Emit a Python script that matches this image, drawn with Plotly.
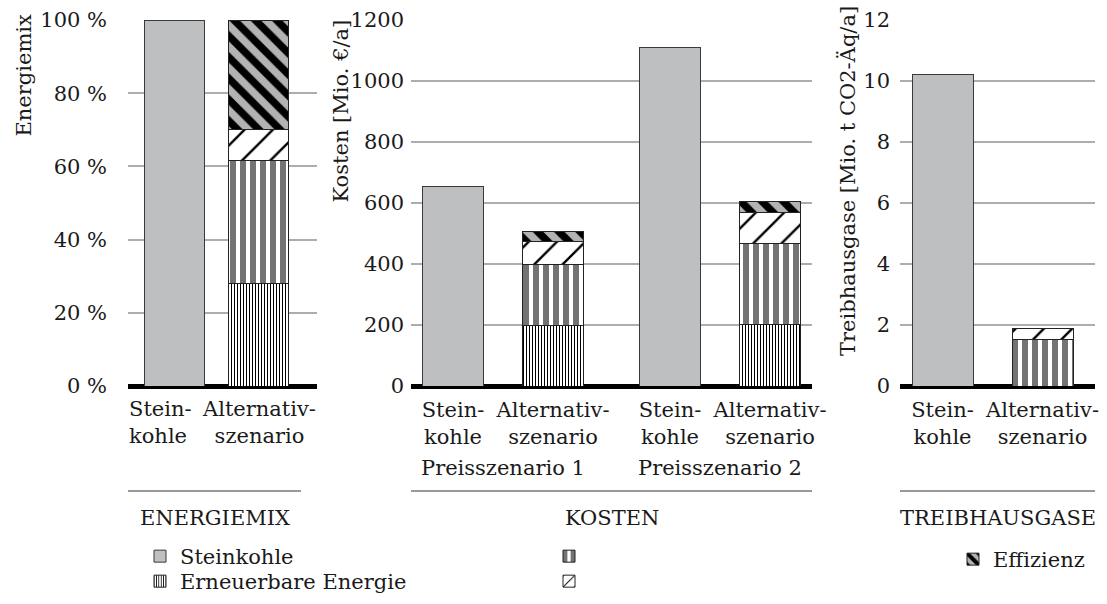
import plotly.graph_objects as go

W, H = 1107, 604
FONT = "DejaVu Serif"
INK = "#1a1a1a"
FS = 21

# ---------------------------------------------------------------- data
kategorien = ["Stein-<br>kohle", "Alternativ-<br>szenario"]
preisszenarien = ["Preisszenario 1", "Preisszenario 2"]

# Energiemix [%]
mix_steinkohle = [100]
mix_erneuerbar = [28]
mix_streifen = [33.5]
mix_schraffur = [8.5]
mix_effizienz = [30]

# Kosten [Mio. EUR/a], one value per Preisszenario
kosten_steinkohle = [655, 1110]
kosten_erneuerbar = [200, 202]
kosten_streifen = [197, 264]
kosten_schraffur = [78, 104]
kosten_effizienz = [30, 34]

# Treibhausgase [Mio. t CO2-Aeq/a]
thg_steinkohle = [10.22]
thg_erneuerbar = [0]
thg_streifen = [1.51]
thg_schraffur = [0.36]
thg_effizienz = [0]

mix_ticks = [0, 20, 40, 60, 80, 100]
kosten_ticks = [0, 200, 400, 600, 800, 1000, 1200]
thg_ticks = [0, 2, 4, 6, 8, 10, 12]

# ---------------------------------------------------------------- styles
def px(x):
    return x / W


def py(y):
    return 1 - y / H


def patterned(shape, fg, bg, size, solidity):
    return dict(color=bg, line=dict(color="#222", width=1),
                pattern=dict(shape=shape, fgcolor=fg, bgcolor=bg, fgopacity=1,
                             fillmode="replace", size=size, solidity=solidity))


SERIES = {
    "stein": dict(name="Steinkohle", legend="legend",
                  marker=dict(color="#BEBFC1", line=dict(color="#3a3a3a", width=1))),
    "erneu": dict(name="Erneuerbare Energie", legend="legend2",
                  marker=patterned("|", "black", "white", 3, 0.34)),
    "streif": dict(name=" ", legend="legend3",
                   marker=patterned("|", "#737373", "white", 10, 0.6)),
    "schraff": dict(name="  ", legend="legend4",
                    marker=patterned("/", "black", "white", 20, 0.12)),
    "eff": dict(name="Effizienz", legend="legend5",
                marker=patterned("\\", "black", "#B3B3B3", 15, 0.5)),
}

# panel geometry: plot area in pixels, first bar centre and px per x-unit
PANELS = [
    dict(ax="", left=128, right=317, c0=174.4, unit=84.1, barpx=60.5),
    dict(ax="2", left=411, right=812, c0=453, unit=100, barpx=60.6),
    dict(ax="3", left=900, right=1095, c0=942.5, unit=100, barpx=61),
]
TOP, BOTTOM = 20, 386
GROUP_GAP = 0.17

fig = go.Figure()
shown = set()


def add_bar(key, xs, ys, panel):
    s = SERIES[key]
    show = key not in shown
    shown.add(key)
    fig.add_trace(go.Bar(
        x=xs, y=ys, name=s["name"], legend=s["legend"], legendgroup=key,
        showlegend=show, marker=s["marker"],
        width=panel["barpx"] / panel["unit"],
        xaxis="x" + panel["ax"], yaxis="y" + panel["ax"], hoverinfo="skip",
    ))


# Energiemix
p = PANELS[0]
add_bar("stein", [0], mix_steinkohle, p)
add_bar("erneu", [1], mix_erneuerbar, p)
add_bar("streif", [1], mix_streifen, p)
add_bar("schraff", [1], mix_schraffur, p)
add_bar("eff", [1], mix_effizienz, p)

# Kosten: two bars per Preisszenario, small gap between the groups
p = PANELS[1]
pos_stein = [2 * g + g * GROUP_GAP for g in range(len(preisszenarien))]
pos_alt = [x + 1 for x in pos_stein]
add_bar("stein", pos_stein, kosten_steinkohle, p)
add_bar("erneu", pos_alt, kosten_erneuerbar, p)
add_bar("streif", pos_alt, kosten_streifen, p)
add_bar("schraff", pos_alt, kosten_schraffur, p)
add_bar("eff", pos_alt, kosten_effizienz, p)

# Treibhausgase
p = PANELS[2]
add_bar("stein", [0], thg_steinkohle, p)
add_bar("erneu", [1], thg_erneuerbar, p)
add_bar("streif", [1], thg_streifen, p)
add_bar("schraff", [1], thg_schraffur, p)
add_bar("eff", [1], thg_effizienz, p)

# ---------------------------------------------------------------- axes
tickfont = dict(family=FONT, size=FS, color=INK)

xticks = [
    ([0, 1], kategorien),
    (sorted(pos_stein + pos_alt), kategorien * len(preisszenarien)),
    ([0, 1], kategorien),
]
yspecs = [
    dict(range=[0, 100], tickvals=mix_ticks,
         ticktext=[f"{v} %" for v in mix_ticks], standoff=20),
    dict(range=[0, 1200], tickvals=kosten_ticks,
         ticktext=[str(v) for v in kosten_ticks], standoff=6),
    dict(range=[0, 12], tickvals=thg_ticks,
         ticktext=[str(v) for v in thg_ticks], standoff=9),
]
layout_axes = {}
ranges = []
for i, (panel, (tv, tt), ys) in enumerate(zip(PANELS, xticks, yspecs)):
    lo = (panel["left"] - panel["c0"]) / panel["unit"]
    hi = (panel["right"] - panel["c0"]) / panel["unit"]
    ranges.append((lo, hi))
    xname = "xaxis" + panel["ax"]
    yname = "yaxis" + panel["ax"]
    layout_axes[xname] = dict(
        domain=[px(panel["left"]), px(panel["right"])], range=[lo, hi],
        anchor="y" + panel["ax"], tickvals=tv, ticktext=tt, tickfont=tickfont,
        # the narrow Energiemix panel gets its labels as annotations below
        showticklabels=(i > 0),
        tickangle=0, showgrid=False, zeroline=False, showline=False, ticks="",
        ticklabelstandoff=9, automargin=False, fixedrange=True,
    )
    layout_axes[yname] = dict(
        domain=[py(BOTTOM), py(TOP)], range=ys["range"], tickvals=ys["tickvals"],
        ticktext=ys["ticktext"], anchor="x" + panel["ax"], tickfont=tickfont,
        showgrid=True, gridcolor="#ADADAD", gridwidth=2,
        zeroline=True, zerolinecolor="black", zerolinewidth=5,
        showline=False, ticks="", ticklabelstandoff=ys["standoff"],
        automargin=False, fixedrange=True,
    )

# ---------------------------------------------------------------- text
annotations = []

# Energiemix category labels: first one flush with the panel's left edge
LABEL_TOP = 396
annotations.append(dict(
    text=kategorien[0], x=ranges[0][0], y=py(LABEL_TOP), xref="x", yref="paper",
    xanchor="left", yanchor="top", align="left", showarrow=False,
    borderpad=0, font=tickfont,
))
annotations.append(dict(
    text=kategorien[1], x=1, y=py(LABEL_TOP), xref="x", yref="paper",
    xanchor="center", yanchor="top", align="center", showarrow=False,
    borderpad=0, font=tickfont,
))

# axis titles, rotated and aligned to the top
for text, xc, ytop in [
    ("Energiemix", 23, 12),
    ("Kosten [Mio. €/a]", 340, 18),
    ("Treibhausgase [Mio. t CO2-Äq/a]", 848, 4),
]:
    annotations.append(dict(
        text=text, x=px(xc), y=py(ytop), xref="paper", yref="paper",
        xanchor="center", yanchor="top", textangle=-90, showarrow=False,
        font=dict(family=FONT, size=FS, color=INK),
    ))

# scenario labels under the Kosten groups
for g, label in enumerate(preisszenarien):
    annotations.append(dict(
        text=label, x=(pos_stein[g] + pos_alt[g]) / 2, y=py(468),
        xref="x2", yref="paper", xanchor="center", yanchor="middle",
        showarrow=False, font=dict(family=FONT, size=FS, color=INK),
    ))

# section headers with rule above
shapes = []
for text, x0, x1 in [("ENERGIEMIX", 128, 301), ("KOSTEN", 411, 812),
                     ("TREIBHAUSGASE", 900, 1095)]:
    shapes.append(dict(type="line", xref="paper", yref="paper",
                       x0=px(x0), x1=px(x1), y0=py(491), y1=py(491),
                       line=dict(color="#333", width=1)))
    annotations.append(dict(
        text=text, x=px((x0 + x1) / 2), y=py(518), xref="paper", yref="paper",
        xanchor="center", yanchor="middle", showarrow=False,
        font=dict(family=FONT, size=FS, color=INK),
    ))

legend_font = dict(family=FONT, size=FS, color=INK)


def legend_at(x, ytop):
    return dict(x=px(x), y=py(ytop), font=legend_font, bgcolor="rgba(0,0,0,0)",
                xanchor="left", yanchor="top", itemwidth=30)


fig.update_layout(
    width=W, height=H, margin=dict(l=0, r=0, t=0, b=0, autoexpand=False),
    paper_bgcolor="white", plot_bgcolor="white",
    barmode="stack", showlegend=True,
    font=dict(family=FONT, size=FS, color=INK),
    legend=legend_at(140, 536),
    legend2=legend_at(140, 561),
    legend3=legend_at(549, 536),
    legend4=legend_at(549, 561),
    legend5=legend_at(953, 539),
    annotations=annotations, shapes=shapes,
    **layout_axes,
)

fig.write_html("out.html")
